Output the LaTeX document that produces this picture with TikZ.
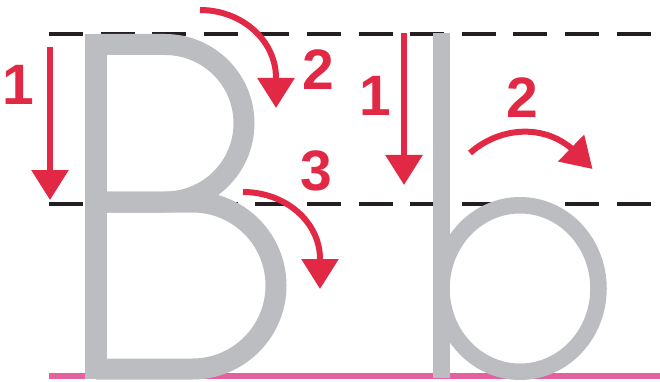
\documentclass[tikz,border=0pt]{standalone}
\usepackage{fontspec}
\setmainfont{Liberation Sans}
\usetikzlibrary{arrows.meta}
\definecolor{lettergray}{RGB}{188,189,192}
\definecolor{guidered}{RGB}{225,41,70}
\definecolor{basepink}{RGB}{228,96,158}
\definecolor{dashblack}{RGB}{35,31,32}
\tikzset{
  guide/.style={draw=dashblack, line width=3.5pt, dash pattern=on 34pt off 17.6pt},
  baseline/.style={draw=basepink, line width=6pt},
  glyph/.style={draw=lettergray, line width=21pt},
  glyphfill/.style={fill=lettergray},
  strokearrow/.style={draw=guidered, line width=6pt, -{Triangle[length=30pt,width=36pt]}},
  numlabel/.style={text=guidered, inner sep=0pt, font=\bfseries\fontsize{57}{57}\selectfont}
}
\begin{document}
\begin{tikzpicture}[x=1pt,y=-1pt]
\useasboundingbox (0,0) rectangle (660,382);
% guide lines
\coordinate (tl) at (49,34); \coordinate (tr) at (651,34);
\coordinate (ml) at (49,204); \coordinate (mr) at (651,204);
\coordinate (bl) at (49,376); \coordinate (br) at (660,376);
\draw[guide] (tl) -- (tr);
\draw[guide] (ml) -- (mr);
\draw[baseline] (bl) -- (br);
% letter B
\fill[glyphfill] (85,34) rectangle (107,379);
\draw[glyph] (96,44.5) -- (165,44.5) arc[start angle=-90,end angle=90,x radius=79,y radius=78.75] -- (96,202);
\draw[glyph] (96,202) -- (192.5,202) arc[start angle=-90,end angle=90,x radius=83.5,y radius=83.5] -- (96,369);
% letter b
\fill[glyphfill] (433,33) rectangle (450,378);
\draw[glyph, line width=16.5pt] (520,288.5) ellipse[x radius=78.5,y radius=83.25];
% arrows
\coordinate (a1s) at (50,47); \coordinate (a1e) at (50,200);
\draw[strokearrow] (a1s) -- (a1e);
\coordinate (a2s) at (200,10); \coordinate (a2b) at (276,78); \coordinate (a2e) at (276,108);
\draw[strokearrow] (a2s) .. controls (242,10) and (276,40.5) .. (a2b) -- (a2e);
\coordinate (a3s) at (243,192); \coordinate (a3b) at (320,259); \coordinate (a3e) at (320,289);
\draw[strokearrow] (a3s) .. controls (285.5,192) and (320,222) .. (a3b) -- (a3e);
\coordinate (b1s) at (404,33); \coordinate (b1e) at (404,185);
\draw[strokearrow] (b1s) -- (b1e);
\coordinate (b2s) at (470,153); \coordinate (b2b) at (571,148); \coordinate (b2e) at (592.5,169);
\draw[strokearrow] (b2s) .. controls (498.7,127.7) and (541.3,123.5) .. (b2b) -- (b2e);
% labels
\node[numlabel] (n1) at (18,85) {1};
\node[numlabel] (n2) at (318,70) {2};
\node[numlabel] (n3) at (316,171) {3};
\node[numlabel] (m1) at (375,96) {1};
\node[numlabel] (m2) at (522,98) {2};
\end{tikzpicture}
\end{document}
